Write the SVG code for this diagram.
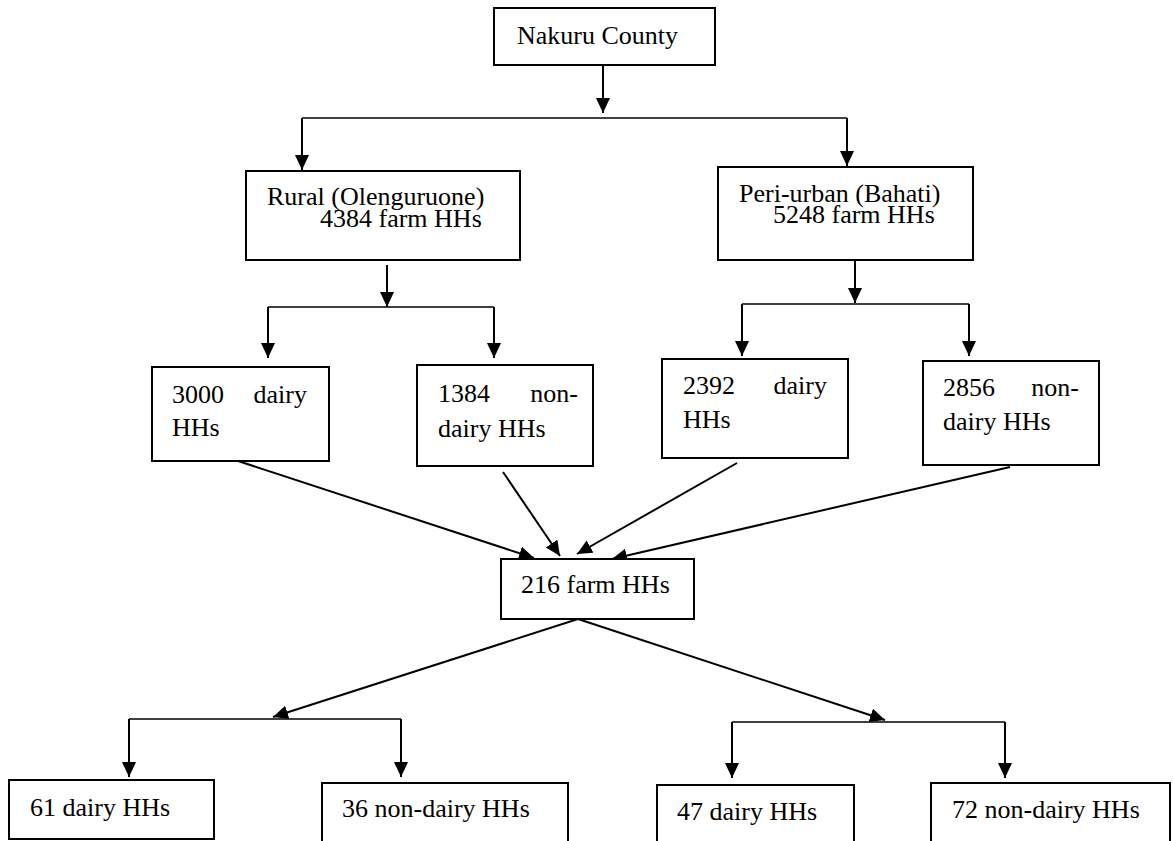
<svg xmlns="http://www.w3.org/2000/svg" width="1173" height="841" viewBox="0 0 1173 841">
<style>
.box{fill:#fff;stroke:#000;stroke-width:2}
.t{font-family:"Liberation Serif","Times New Roman",serif;font-size:26px;fill:#000}
.e{text-anchor:end}
.c{fill:none;stroke:#000;stroke-width:2}
.b{fill:none;stroke:#000;stroke-width:1.7}
.a{fill:none;stroke:#000;stroke-width:2;marker-end:url(#ah)}
</style>
<defs>
<marker id="ah" markerUnits="userSpaceOnUse" markerWidth="16" markerHeight="15" refX="15" refY="7" orient="auto">
<path d="M0,0 L15,7 L0,14 Z" fill="#000"/>
</marker>
</defs>
<rect x="0" y="0" width="1173" height="841" fill="#fff"/>
<g id="connectors">
<line class="a" x1="603" y1="65" x2="603" y2="113"/>
<line class="b" x1="302" y1="118" x2="847" y2="118"/>
<line class="a" x1="302" y1="118" x2="302" y2="170"/>
<line class="a" x1="847" y1="118" x2="847" y2="166"/>
<line class="a" x1="387" y1="265" x2="387" y2="307"/>
<line class="b" x1="268" y1="307" x2="494" y2="307"/>
<line class="a" x1="268" y1="307" x2="268" y2="358"/>
<line class="a" x1="494" y1="307" x2="494" y2="358"/>
<line class="a" x1="855" y1="260" x2="855" y2="303"/>
<line class="b" x1="742" y1="304" x2="969" y2="304"/>
<line class="a" x1="742" y1="304" x2="742" y2="356"/>
<line class="a" x1="969" y1="304" x2="969" y2="356"/>
<line class="a" x1="238" y1="461" x2="534" y2="558"/>
<line class="a" x1="503" y1="472" x2="560" y2="556"/>
<line class="a" x1="737" y1="463" x2="577" y2="554"/>
<line class="a" x1="1010" y1="467" x2="612" y2="559"/>
<line class="a" x1="578" y1="619" x2="273" y2="717"/>
<line class="a" x1="578" y1="619" x2="885" y2="720"/>
<line class="b" x1="129" y1="719" x2="401" y2="719"/>
<line class="a" x1="129" y1="719" x2="129" y2="777"/>
<line class="a" x1="401" y1="719" x2="401" y2="777"/>
<line class="b" x1="732" y1="722" x2="1005" y2="722"/>
<line class="a" x1="732" y1="722" x2="732" y2="778"/>
<line class="a" x1="1005" y1="722" x2="1005" y2="778"/>
</g>
<g id="nakuru">
<rect class="box" x="494" y="8" width="221" height="57"/>
<text class="t" x="517" y="44">Nakuru County</text>
</g>
<g id="rural">
<rect class="box" x="246" y="171" width="274" height="89"/>
<text class="t" x="267" y="205">Rural (Olenguruone)</text>
<text class="t" x="320" y="227">4384 farm HHs</text>
</g>
<g id="periurban">
<rect class="box" x="718" y="167" width="255" height="93"/>
<text class="t" x="739" y="202">Peri-urban (Bahati)</text>
<text class="t" x="773" y="223">5248 farm HHs</text>
</g>
<g id="rural-dairy">
<rect class="box" x="152" y="367" width="177" height="94"/>
<text class="t" x="172" y="403">3000</text>
<text class="t e" x="307" y="403">dairy</text>
<text class="t" x="172" y="436">HHs</text>
</g>
<g id="rural-nondairy">
<rect class="box" x="417" y="365" width="176" height="101"/>
<text class="t" x="438" y="402">1384</text>
<text class="t e" x="578" y="402">non-</text>
<text class="t" x="438" y="437">dairy HHs</text>
</g>
<g id="peri-dairy">
<rect class="box" x="662" y="359" width="186" height="99"/>
<text class="t" x="683" y="394">2392</text>
<text class="t e" x="827" y="394">dairy</text>
<text class="t" x="683" y="428">HHs</text>
</g>
<g id="peri-nondairy">
<rect class="box" x="923" y="361" width="176" height="104"/>
<text class="t" x="943" y="396">2856</text>
<text class="t e" x="1079" y="396">non-</text>
<text class="t" x="943" y="430">dairy HHs</text>
</g>
<g id="sample">
<rect class="box" x="501" y="559" width="193" height="60"/>
<text class="t" x="521" y="593">216 farm HHs</text>
</g>
<g id="s-rural-dairy">
<rect class="box" x="9" y="780" width="205" height="59"/>
<text class="t" x="30" y="816">61 dairy HHs</text>
</g>
<g id="s-rural-nondairy">
<rect class="box" x="322" y="783" width="246" height="70"/>
<text class="t" x="342" y="817">36 non-dairy HHs</text>
</g>
<g id="s-peri-dairy">
<rect class="box" x="657" y="785" width="197" height="70"/>
<text class="t" x="677" y="820">47 dairy HHs</text>
</g>
<g id="s-peri-nondairy">
<rect class="box" x="931" y="783" width="239" height="70"/>
<text class="t" x="952" y="818">72 non-dairy HHs</text>
</g>
</svg>
